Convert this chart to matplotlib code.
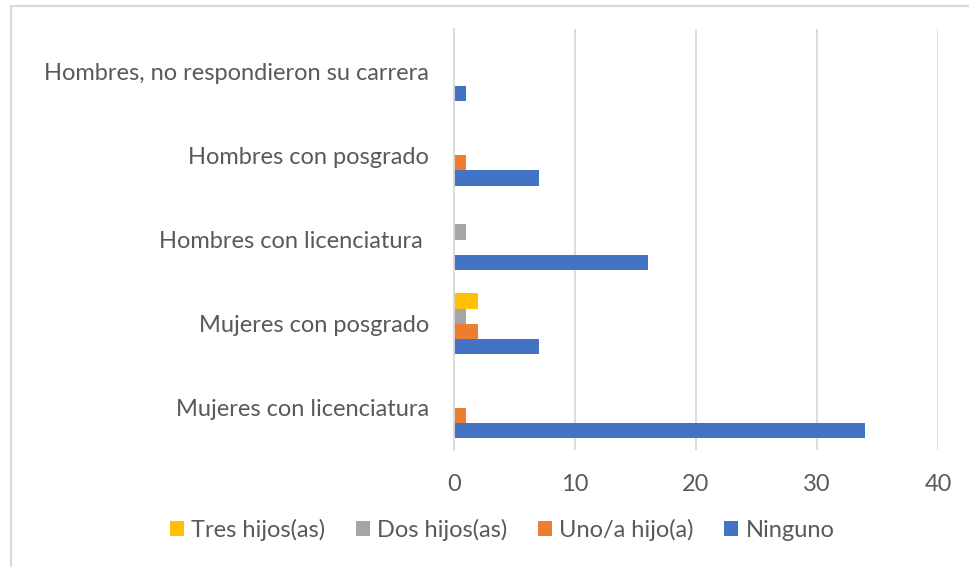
import numpy as np
import matplotlib.pyplot as plt
from matplotlib.lines import Line2D

plt.rcParams['font.family'] = ['Lato', 'DejaVu Sans']

categorias = ["Mujeres con licenciatura", "Mujeres con posgrado",
              "Hombres con licenciatura ", "Hombres con posgrado",
              "Hombres, no respondieron su carrera"]
ninguno = [34, 7, 16, 7, 1]
uno_hijo = [1, 2, 0, 1, 0]
dos_hijos = [0, 1, 1, 0, 0]
tres_hijos = [0, 2, 0, 0, 0]

series = [("Ninguno", ninguno, "#4472C4"),
          ("Uno/a hijo(a)", uno_hijo, "#ED7D31"),
          ("Dos hijos(as)", dos_hijos, "#A5A5A5"),
          ("Tres hijos(as)", tres_hijos, "#FFC000")]

W, H = 969, 567
fig = plt.figure(figsize=(W / 100, H / 100), dpi=100)
ax = fig.add_axes([454 / W, 1 - 450 / H, (938 - 454) / W, (450 - 29) / H])

txt = "#595959"
fs = 17
y = np.arange(len(categorias))
h = 0.18
handles = {}
for i, (nombre, vals, color) in enumerate(series):
    b = ax.barh(y + (i - 1.5) * h, vals, height=h, color=color, label=nombre)
    handles[nombre] = b

ax.set_xlim(0, 40)
ax.set_ylim(-0.5, len(categorias) - 0.5)
ax.set_xticks([0, 10, 20, 30, 40])
ax.set_yticks(y)
ax.set_yticklabels(categorias)
ax.tick_params(axis='both', length=0, colors=txt, labelsize=fs)
ax.tick_params(axis='x', pad=17)
ax.tick_params(axis='y', pad=18)
ax.grid(axis='x', color="#d9d9d9", linewidth=1.3)
ax.set_axisbelow(True)
for s in ["top", "right", "bottom"]:
    ax.spines[s].set_visible(False)
ax.spines["left"].set_color("#d9d9d9")
ax.spines["left"].set_linewidth(1.3)

orden = ["Tres hijos(as)", "Dos hijos(as)", "Uno/a hijo(a)", "Ninguno"]
fig.legend([handles[n] for n in orden], orden, loc='center',
           bbox_to_anchor=(502 / W, 1 - 530 / H), ncol=4, frameon=False,
           fontsize=fs, labelcolor=txt, handlelength=0.6, handleheight=0.6,
           handletextpad=0.3, columnspacing=1.3)

# marco del gráfico
borde = "#d9d9d9"
fig.add_artist(Line2D([10.5 / W, 10.5 / W], [0, 1 - 6 / H], color=borde,
                      linewidth=1.5, transform=fig.transFigure))
fig.add_artist(Line2D([10.5 / W, 1], [1 - 6 / H, 1 - 6 / H], color=borde,
                      linewidth=1.5, transform=fig.transFigure))

fig.savefig("out.png", dpi=100)
